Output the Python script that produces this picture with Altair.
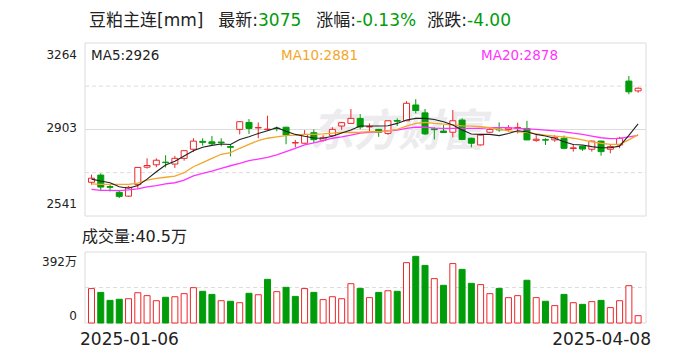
import altair as alt
import pandas as pd

# ---------------- data ----------------
opens = [2682, 2712, 2664, 2640, 2624, 2672, 2745, 2755, 2766, 2758,
         2782, 2820, 2853, 2851, 2850, 2831, 2903, 2932, 2909, 2902,
         2908, 2912, 2846, 2845, 2889, 2858, 2877, 2917, 2928, 2949,
         2913, 2903, 2886, 2940, 2939, 3005, 2972, 2905, 2896, 2891,
         2942, 2866, 2838, 2891, 2904, 2903, 2908, 2907, 2857, 2860,
         2859, 2866, 2823, 2833, 2820, 2854, 2820, 2838, 3105, 3064]
closes = [2699, 2662, 2661, 2623, 2661, 2744, 2752, 2774, 2764, 2782,
          2814, 2854, 2849, 2843, 2847, 2828, 2935, 2907, 2911, 2904,
          2906, 2880, 2848, 2882, 2860, 2868, 2903, 2931, 2949, 2913,
          2915, 2891, 2939, 2937, 3012, 2982, 2884, 2902, 2890, 2939,
          2861, 2845, 2879, 2903, 2901, 2909, 2911, 2859, 2862, 2858,
          2870, 2824, 2826, 2821, 2854, 2810, 2831, 2866, 3060, 3075]
highs = [2714, 2719, 2672, 2645, 2666, 2746, 2782, 2782, 2795, 2792,
         2816, 2866, 2866, 2875, 2866, 2840, 2937, 2946, 2932, 2960,
         2915, 2914, 2859, 2900, 2903, 2878, 2912, 2933, 2988, 2967,
         2928, 2905, 2940, 2949, 3021, 3029, 2988, 2912, 2921, 2984,
         2949, 2868, 2880, 2912, 2932, 2921, 2931, 2939, 2879, 2866,
         2879, 2877, 2842, 2835, 2856, 2856, 2842, 2872, 3126, 3078]
lows = [2672, 2645, 2643, 2616, 2621, 2656, 2739, 2745, 2744, 2742,
        2772, 2808, 2835, 2838, 2832, 2790, 2882, 2884, 2866, 2897,
        2895, 2841, 2828, 2844, 2846, 2852, 2876, 2901, 2927, 2904,
        2893, 2872, 2880, 2917, 2938, 2970, 2880, 2861, 2888, 2870,
        2858, 2828, 2836, 2888, 2893, 2893, 2886, 2858, 2851, 2838,
        2851, 2820, 2810, 2813, 2810, 2793, 2803, 2824, 3050, 3056]
ma5 = [2695, 2687, 2680, 2663, 2657, 2668, 2695, 2726, 2754, 2770,
       2792, 2814, 2828, 2836, 2842, 2840, 2861, 2872, 2886, 2897,
       2910, 2895, 2882, 2874, 2867, 2866, 2874, 2888, 2900, 2917,
       2917, 2917, 2918, 2928, 2942, 2949, 2949, 2944, 2935, 2921,
       2900, 2884, 2882, 2882, 2877, 2886, 2897, 2893, 2882, 2875,
       2866, 2851, 2840, 2838, 2831, 2826, 2826, 2833, 2878, 2926]
ma10 = [2675, 2673, 2673, 2673, 2673, 2678, 2691, 2698, 2703, 2708,
        2722, 2747, 2764, 2782, 2799, 2806, 2824, 2840, 2856, 2866,
        2872, 2877, 2879, 2882, 2882, 2884, 2887, 2890, 2890, 2891,
        2893, 2893, 2897, 2903, 2917, 2928, 2932, 2928, 2925, 2922,
        2918, 2917, 2914, 2910, 2903, 2897, 2893, 2891, 2884, 2879,
        2875, 2872, 2866, 2859, 2851, 2845, 2840, 2840, 2859, 2881]
ma20 = [2652, 2648, 2648, 2647, 2650, 2654, 2663, 2668, 2675, 2680,
        2691, 2709, 2719, 2729, 2740, 2751, 2761, 2772, 2779, 2786,
        2796, 2810, 2824, 2838, 2847, 2856, 2866, 2872, 2879, 2887,
        2891, 2893, 2897, 2900, 2907, 2912, 2912, 2908, 2907, 2907,
        2907, 2907, 2907, 2910, 2910, 2910, 2907, 2905, 2903, 2900,
        2897, 2893, 2887, 2882, 2875, 2868, 2864, 2865, 2872, 2878]
volumes = [190, 169, 125, 131, 134, 167, 151, 123, 142, 145,
           162, 195, 175, 158, 123, 120, 112, 164, 156, 241,
           173, 197, 147, 190, 169, 129, 145, 134, 217, 191,
           140, 169, 178, 175, 333, 368, 318, 245, 208, 328,
           296, 219, 212, 162, 191, 140, 151, 236, 140, 120,
           96, 158, 112, 103, 118, 125, 85, 123, 206, 40.5]
vol_up = [1, 0, 0, 0, 1, 1, 1, 1, 0, 1,
          1, 1, 0, 0, 1, 0, 1, 0, 1, 0,
          1, 0, 0, 1, 0, 1, 1, 1, 1, 0,
          1, 0, 1, 0, 1, 0, 0, 1, 0, 1,
          0, 0, 1, 1, 0, 1, 1, 0, 1, 0,
          1, 0, 1, 0, 1, 0, 1, 1, 1, 1]

price_ticks = [3264, 2903, 2541]
price_grid_dashed = [2722.25, 3083.75]
price_grid_solid = [2902.5]
vol_ticks = ["392万", "0"]
vol_tick_values = [392, 0]
vol_grid = [196]
date_labels = ["2025-01-06", "2025-04-08"]
title_name = "豆粕主连[mm]"
title_keys = ["最新:", "涨幅:", "涨跌:"]
title_values = ["3075", "-0.13%", "-4.00"]
ma_labels = ["MA5:2926", "MA10:2881", "MA20:2878"]
vol_title = "成交量:40.5万"

# ---------------- styling ----------------
RED = "#f0262a"
GREEN = "#009c0a"
FONT = "DejaVu Sans, Noto Sans CJK SC"
GRIDC = "#dcdcdc"
XMIN, XMAX = -0.7, 59.85

df = pd.DataFrame({
    "i": list(range(len(closes))),
    "open": opens, "close": closes, "high": highs, "low": lows,
    "ma5": ma5, "ma10": ma10, "ma20": ma20,
    "vol": volumes,
})
df["dir"] = ["up" if c >= o else "down" for o, c in zip(opens, closes)]
df["vdir"] = ["up" if u else "down" for u in vol_up]

XS = alt.Scale(domain=[XMIN, XMAX], range=[72, 643], nice=False, zero=False)
PY = alt.Scale(domain=[2541, 3264], range=[208, 35], nice=False, zero=False)
VY = alt.Scale(domain=[0, 392], range=[315, 244], nice=False)

xi = alt.X("i:Q", scale=XS, axis=None)
dir_stroke = alt.Scale(domain=["up", "down"], range=[RED, GREEN])
dir_fill = alt.Scale(domain=["up", "down"], range=["#ffffff", GREEN])

ONE = pd.DataFrame({"a": [0]})


def txt(s, x, y, color="#222222", size=13, align="left", baseline="middle", **kw):
    return alt.Chart(ONE).mark_text(
        text=s, align=align, baseline=baseline, font=FONT, fontSize=size,
        color=color, **kw
    ).encode(x=alt.value(x), y=alt.value(y))


def tick_label(label, value, scale, dy):
    return alt.Chart(pd.DataFrame({"v": [value], "t": [label]})).mark_text(
        align="right", baseline="middle", font=FONT, fontSize=12,
        color="#222222", dy=dy
    ).encode(x=alt.value(69), y=alt.Y("v:Q", scale=scale, axis=None), text="t:N")


# frame and grid of the price panel
pframe_df = pd.DataFrame({"xa": [XMIN], "xb": [XMAX], "ya": [2541], "yb": [3264]})
pframe = alt.Chart(pframe_df).mark_rect(fillOpacity=0, stroke=GRIDC, strokeWidth=1).encode(
    x=alt.X("xa:Q", scale=XS, axis=None), x2="xb:Q",
    y=alt.Y("ya:Q", scale=PY, axis=None), y2="yb:Q")
pgrid_d = alt.Chart(pd.DataFrame({"v": price_grid_dashed, "xa": XMIN, "xb": XMAX})).mark_rule(
    stroke=GRIDC, strokeDash=[4, 3], strokeWidth=1).encode(
    x=alt.X("xa:Q", scale=XS, axis=None), x2="xb:Q",
    y=alt.Y("v:Q", scale=PY, axis=None))
pgrid_s = alt.Chart(pd.DataFrame({"v": price_grid_solid, "xa": XMIN, "xb": XMAX})).mark_rule(
    stroke=GRIDC, strokeWidth=1).encode(
    x=alt.X("xa:Q", scale=XS, axis=None), x2="xb:Q",
    y=alt.Y("v:Q", scale=PY, axis=None))

watermark = txt("东方财富", 390, 125, color="#ececef", size=44, align="center",
                fontWeight="bold", fontStyle="italic")

base = alt.Chart(df)
wick = base.mark_rule(strokeWidth=1).encode(
    x=xi, y=alt.Y("low:Q", scale=PY, axis=None), y2="high:Q",
    stroke=alt.Stroke("dir:N", scale=dir_stroke, legend=None))
body = base.mark_bar(size=6, strokeWidth=1).encode(
    x=xi, y=alt.Y("open:Q", scale=PY, axis=None), y2="close:Q",
    fill=alt.Fill("dir:N", scale=dir_fill, legend=None),
    stroke=alt.Stroke("dir:N", scale=dir_stroke, legend=None))
l5 = base.mark_line(color="#222222", strokeWidth=1.1).encode(
    x=xi, y=alt.Y("ma5:Q", scale=PY, axis=None))
l10 = base.mark_line(color="#f5a52a", strokeWidth=1.3).encode(
    x=xi, y=alt.Y("ma10:Q", scale=PY, axis=None))
l20 = base.mark_line(color="#ff33ff", strokeWidth=1.3).encode(
    x=xi, y=alt.Y("ma20:Q", scale=PY, axis=None))

plabs = [tick_label(str(v), v, PY, dy) for v, dy in zip(price_ticks, [12, -1, -12])]

price_layer = alt.layer(pframe, pgrid_d, pgrid_s, watermark, wick, body, l20, l10, l5, *plabs)

# volume panel
vframe_df = pd.DataFrame({"xa": [XMIN], "xb": [XMAX], "ya": [0], "yb": [392]})
vframe = alt.Chart(vframe_df).mark_rect(fillOpacity=0, stroke=GRIDC, strokeWidth=1).encode(
    x=alt.X("xa:Q", scale=XS, axis=None), x2="xb:Q",
    y=alt.Y("ya:Q", scale=VY, axis=None), y2="yb:Q")
vgrid = alt.Chart(pd.DataFrame({"v": vol_grid, "xa": XMIN, "xb": XMAX})).mark_rule(
    stroke=GRIDC, strokeDash=[4, 3], strokeWidth=1).encode(
    x=alt.X("xa:Q", scale=XS, axis=None), x2="xb:Q",
    y=alt.Y("v:Q", scale=VY, axis=None))
vbars = base.mark_bar(size=6, strokeWidth=1).encode(
    x=xi, y=alt.Y("vol:Q", scale=VY, axis=None, stack=None),
    fill=alt.Fill("vdir:N", scale=dir_fill, legend=None),
    stroke=alt.Stroke("vdir:N", scale=dir_stroke, legend=None))
vlabs = [tick_label(t, v, VY, dy) for t, v, dy in zip(vol_ticks, vol_tick_values, [10, -7])]
vol_layer = alt.layer(vframe, vgrid, vbars, *vlabs)

# texts (key labels end exactly where their green values begin)
value_x = [250, 348, 459]
texts = [txt(title_name, 81, 13, size=17)]
for k, v, x in zip(title_keys, title_values, value_x):
    texts.append(txt(k, x, 13, size=17, align="right"))
    texts.append(txt(v, x, 13, color=GREEN, size=17))
texts += [
    txt(ma_labels[0], 83, 48, color="#222222", size=13.5),
    txt(ma_labels[1], 273, 48, color="#f5a52a", size=13.5),
    txt(ma_labels[2], 473, 48, color="#ff33ff", size=13.5),
    txt(vol_title, 74, 229, color="#222222", size=16),
    txt(date_labels[0], 72, 332, color="#222222", size=17),
    txt(date_labels[1], 643, 332, color="#222222", size=17, align="right"),
]

chart = alt.layer(price_layer, vol_layer, *texts).resolve_scale(
    y="independent", fill="independent", stroke="independent"
).properties(width=672, height=344, padding=0, autosize="none", background="white"
).configure_view(stroke=None)

chart.save("out.html", embed_options={"renderer": "svg", "actions": False})
